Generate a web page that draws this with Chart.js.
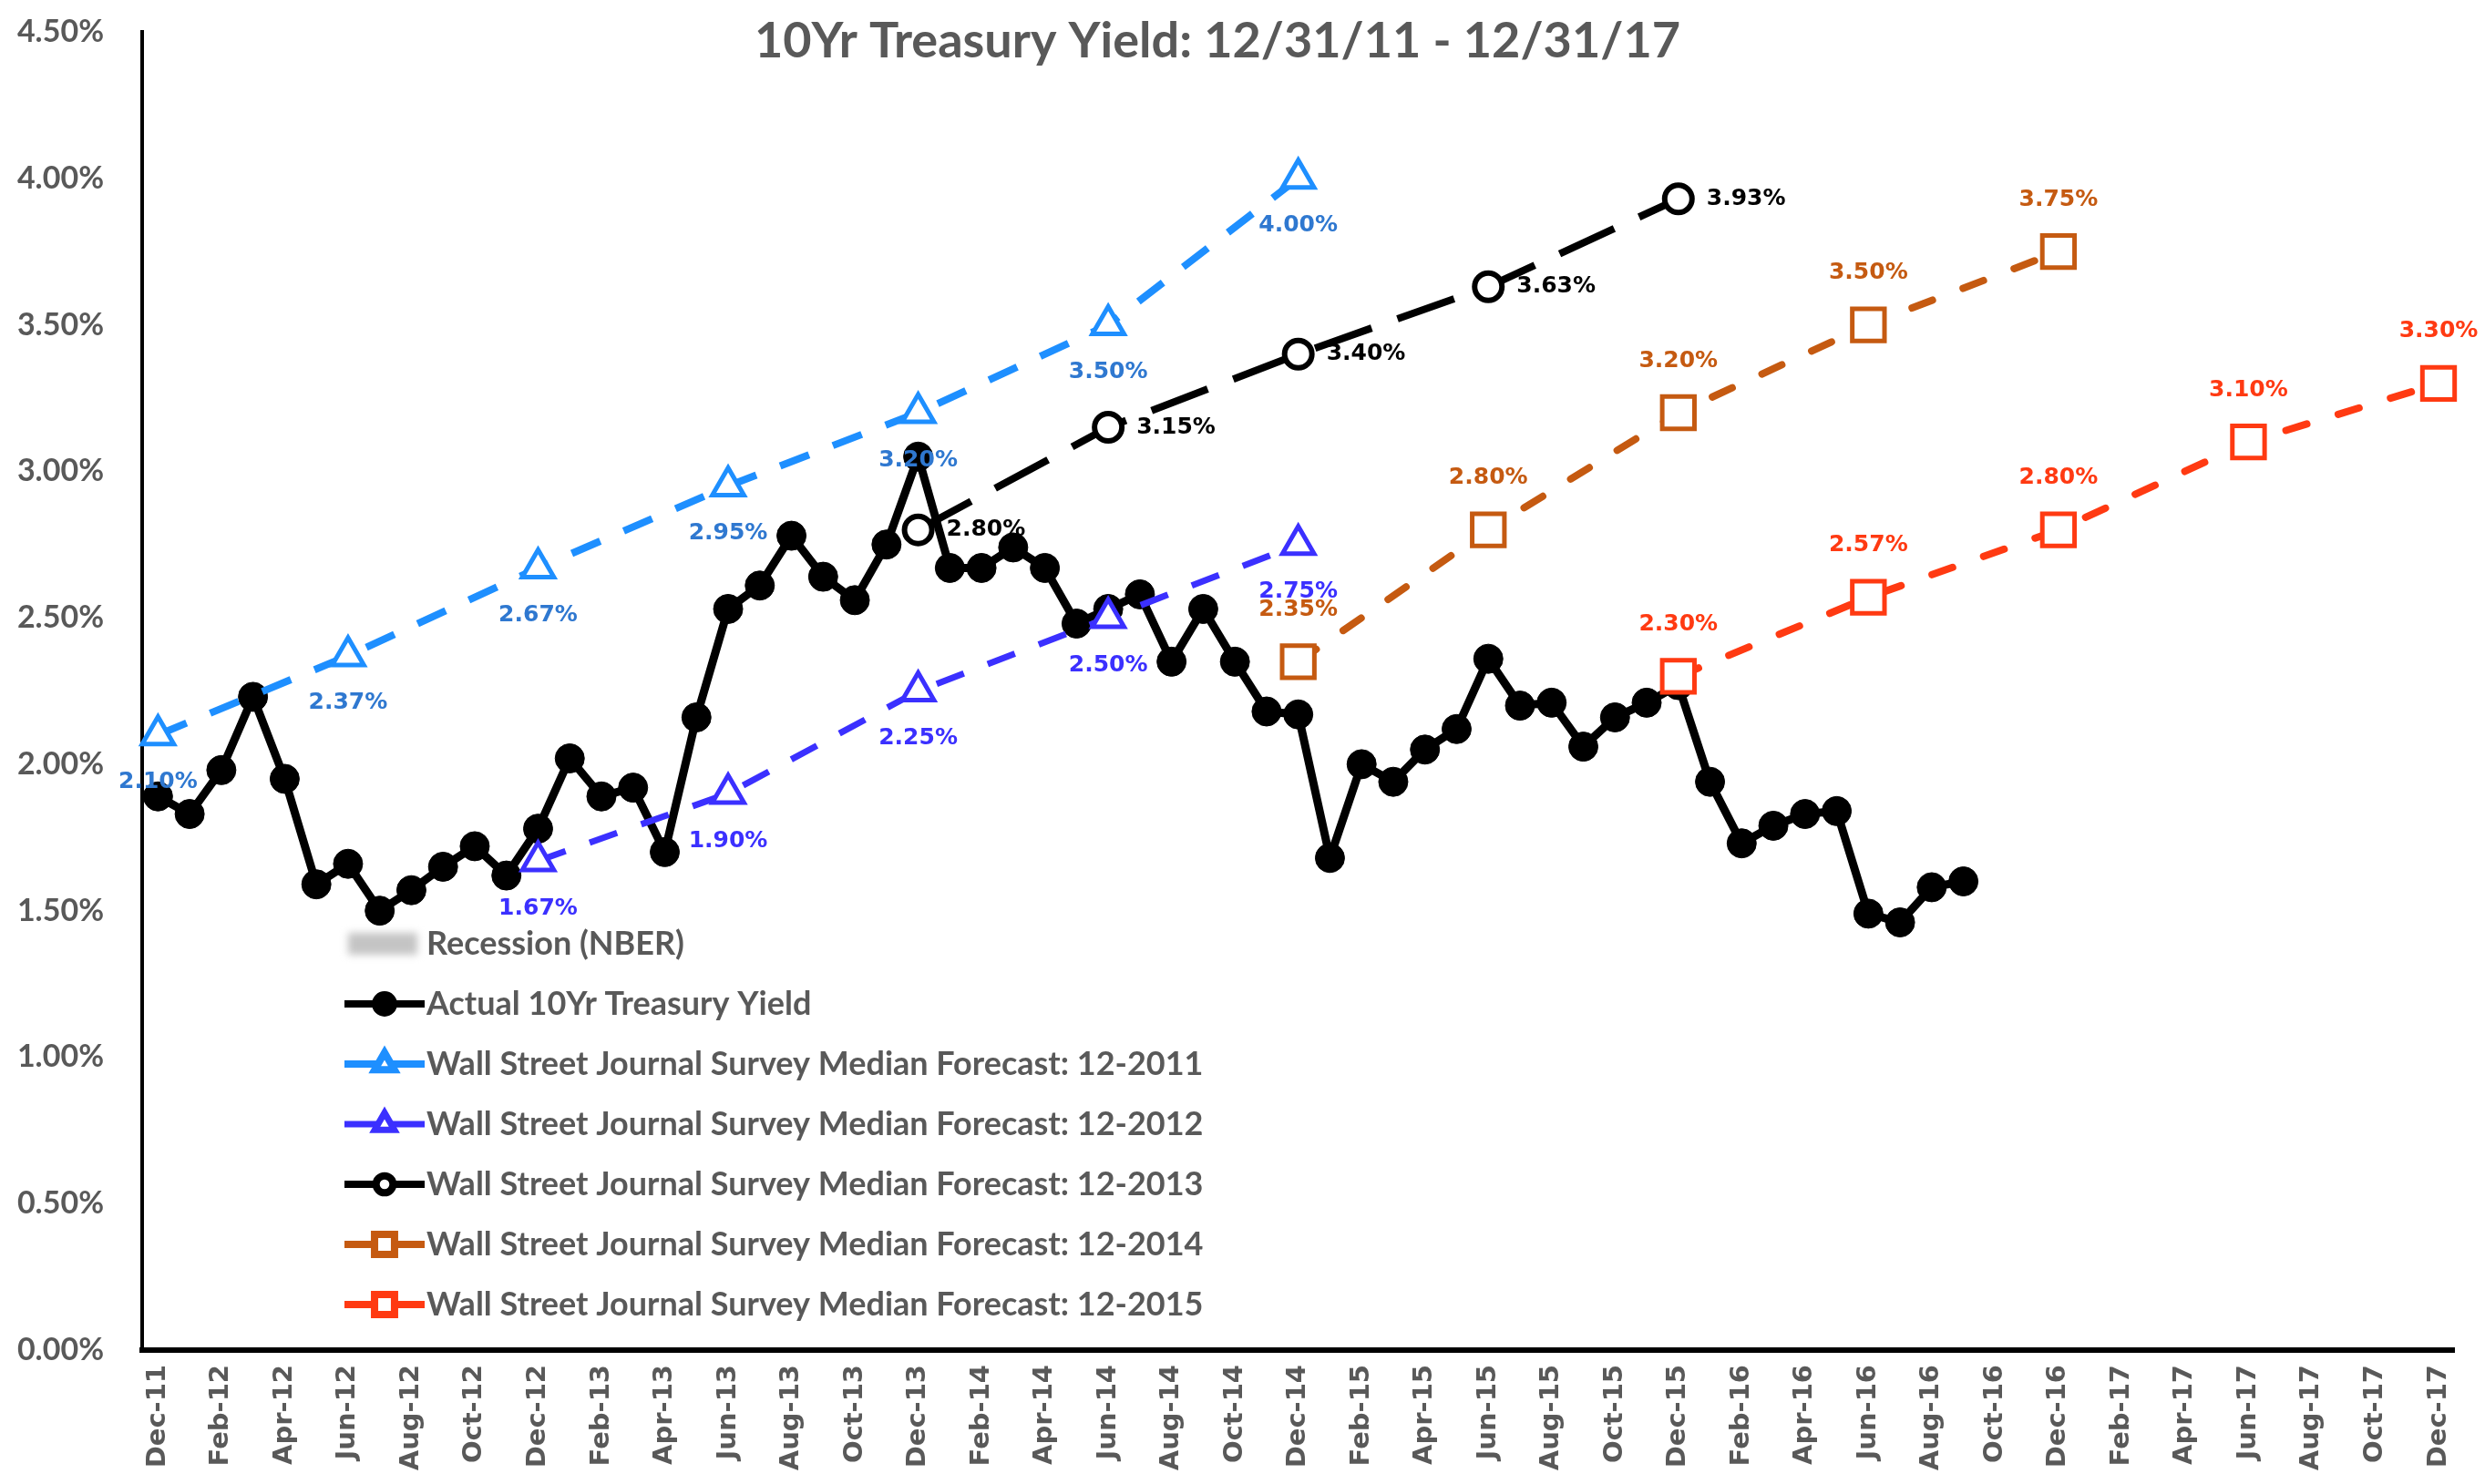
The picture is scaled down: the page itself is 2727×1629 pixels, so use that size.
<!DOCTYPE html>
<html>
<head>
<meta charset="utf-8">
<script src="https://cdn.jsdelivr.net/npm/chart.js@4/dist/chart.umd.min.js"></script>
<style>
  html, body { margin: 0; padding: 0; background: #fff; }
  canvas { display: block; }
</style>
</head>
<body>
<canvas id="grafico" width="2727" height="1629"></canvas>
<script>
// meses (eixo x)
const months = [
  'Dec-11',
  'Jan-12','Feb-12','Mar-12','Apr-12','May-12','Jun-12','Jul-12','Aug-12','Sep-12','Oct-12','Nov-12','Dec-12',
  'Jan-13','Feb-13','Mar-13','Apr-13','May-13','Jun-13','Jul-13','Aug-13','Sep-13','Oct-13','Nov-13','Dec-13',
  'Jan-14','Feb-14','Mar-14','Apr-14','May-14','Jun-14','Jul-14','Aug-14','Sep-14','Oct-14','Nov-14','Dec-14',
  'Jan-15','Feb-15','Mar-15','Apr-15','May-15','Jun-15','Jul-15','Aug-15','Sep-15','Oct-15','Nov-15','Dec-15',
  'Jan-16','Feb-16','Mar-16','Apr-16','May-16','Jun-16','Jul-16','Aug-16','Sep-16','Oct-16','Nov-16','Dec-16',
  'Jan-17','Feb-17','Mar-17','Apr-17','May-17','Jun-17','Jul-17','Aug-17','Sep-17','Oct-17','Nov-17','Dec-17'
]

// rendimento real, Dec-11 ate Sep-16
const actualYield = [
  1.89,
  1.83, 1.98, 2.23, 1.95, 1.59, 1.66, 1.50, 1.57, 1.65, 1.72, 1.62, 1.78,
  2.02, 1.89, 1.92, 1.70, 2.16, 2.53, 2.61, 2.78, 2.64, 2.56, 2.75, 3.05,
  2.67, 2.67, 2.74, 2.67, 2.48, 2.53, 2.58, 2.35, 2.53, 2.35, 2.18, 2.17,
  1.68, 2.00, 1.94, 2.05, 2.12, 2.36, 2.20, 2.21, 2.06, 2.16, 2.21, 2.27,
  1.94, 1.73, 1.79, 1.83, 1.84, 1.49, 1.46, 1.58, 1.60
]

// previsoes WSJ
const months2011 = ['Dec-11','Jun-12','Dec-12','Jun-13','Dec-13','Jun-14','Dec-14']
const forecast2011 = [2.10, 2.37, 2.67, 2.95, 3.20, 3.50, 4.00]

const months2012 = ['Dec-12','Jun-13','Dec-13','Jun-14','Dec-14']
const forecast2012 = [1.67, 1.90, 2.25, 2.50, 2.75]

const months2013 = ['Dec-13','Jun-14','Dec-14','Jun-15','Dec-15']
const forecast2013 = [2.80, 3.15, 3.40, 3.63, 3.93]

const months2014 = ['Dec-14','Jun-15','Dec-15','Jun-16','Dec-16']
const forecast2014 = [2.35, 2.80, 3.20, 3.50, 3.75]

const months2015 = ['Dec-15','Jun-16','Dec-16','Jun-17','Dec-17']
const forecast2015 = [2.30, 2.57, 2.80, 3.10, 3.30]

const yMin = 0
const yMax = 4.5
const yStep = 0.5

const pares = (meses, valores) => meses.map((m, i) => ({ x: m, y: valores[i] }))

const GRAY = '#595959'
const LABEL_FONT = 'bold 25px "DejaVu Sans", sans-serif'

Chart.defaults.font.family = 'Lato, "Liberation Sans", sans-serif'
Chart.defaults.font.weight = 'bold'
Chart.defaults.color = GRAY

const datasets = [
  {
    label: 'Recession (NBER)',
    data: [],
    legendBox: true,
    backgroundColor: '#c4c4c4'
  },
  {
    label: 'Actual 10Yr Treasury Yield',
    data: actualYield,
    borderColor: '#000',
    backgroundColor: '#000',
    borderWidth: 9,
    pointStyle: 'circle',
    pointRadius: 16,
    pointBorderWidth: 1,
    order: 6
  },
  {
    label: 'Wall Street Journal Survey Median Forecast: 12-2011',
    data: pares(months2011, forecast2011),
    borderColor: '#1E8FFF',
    pointBackgroundColor: '#fff',
    borderWidth: 8,
    borderDash: [34, 28],
    pointStyle: 'triangle',
    pointRadius: 20,
    pointBorderWidth: 5,
    labelPos: 'below',
    labelColor: '#2F78D0',
    order: 1
  },
  {
    label: 'Wall Street Journal Survey Median Forecast: 12-2012',
    data: pares(months2012, forecast2012),
    borderColor: '#3B30FF',
    pointBackgroundColor: '#fff',
    borderWidth: 7,
    borderDash: [32, 28],
    pointStyle: 'triangle',
    pointRadius: 20,
    pointBorderWidth: 5,
    labelPos: 'below',
    labelColor: '#3B30FF',
    order: 2
  },
  {
    label: 'Wall Street Journal Survey Median Forecast: 12-2013',
    data: pares(months2013, forecast2013),
    borderColor: '#000',
    pointBackgroundColor: '#fff',
    borderWidth: 8,
    borderDash: [66, 30],
    pointStyle: 'circle',
    pointRadius: 15,
    pointBorderWidth: 6,
    labelPos: 'right',
    labelColor: '#000',
    order: 3
  },
  {
    label: 'Wall Street Journal Survey Median Forecast: 12-2014',
    data: pares(months2014, forecast2014),
    borderColor: '#C55A11',
    pointBackgroundColor: '#fff',
    borderWidth: 8,
    borderDash: [24, 36],
    borderCapStyle: 'round',
    pointStyle: 'rect',
    pointRadius: 25,
    pointBorderWidth: 5,
    labelPos: 'above',
    labelColor: '#C55A11',
    order: 4
  },
  {
    label: 'Wall Street Journal Survey Median Forecast: 12-2015',
    data: pares(months2015, forecast2015),
    borderColor: '#FF3A12',
    pointBackgroundColor: '#fff',
    borderWidth: 8,
    borderDash: [24, 36],
    borderCapStyle: 'round',
    pointStyle: 'rect',
    pointRadius: 25,
    pointBorderWidth: 5,
    labelPos: 'above',
    labelColor: '#FF3A12',
    order: 5
  }
]

// rotulos de valor nas previsoes
const rotulos = {
  id: 'rotulos',
  afterDatasetsDraw(chart) {
    const c = chart.ctx
    chart.data.datasets.forEach((ds, i) => {
      if (!ds.labelPos) return
      const meta = chart.getDatasetMeta(i)
      meta.data.forEach((pt, j) => {
        const texto = ds.data[j].y.toFixed(2) + '%'
        c.save()
        c.font = LABEL_FONT
        c.fillStyle = ds.labelColor
        c.textBaseline = 'middle'
        if (ds.labelPos === 'below') {
          c.textAlign = 'center'
          c.fillText(texto, pt.x, pt.y + 52)
        } else if (ds.labelPos === 'above') {
          c.textAlign = 'center'
          c.fillText(texto, pt.x, pt.y - 57)
        } else {
          c.textAlign = 'left'
          c.fillText(texto, pt.x + 31, pt.y)
        }
        c.restore()
      })
    })
  }
}

// legenda dentro da area do grafico
const legenda = {
  id: 'legenda',
  afterDraw(chart) {
    const c = chart.ctx
    const area = chart.chartArea
    const x0 = area.left + 222
    const x1 = x0 + 88
    let y = area.bottom - 446
    chart.data.datasets.forEach(ds => {
      c.save()
      if (ds.legendBox) {
        c.filter = 'blur(4px)'
        c.fillStyle = ds.backgroundColor
        c.fillRect(x0 + 4, y - 12, 76, 24)
        c.filter = 'none'
      } else {
        c.strokeStyle = ds.borderColor
        c.lineWidth = Math.min(ds.borderWidth, 8)
        c.beginPath()
        c.moveTo(x0, y)
        c.lineTo(x1, y)
        c.stroke()
        c.fillStyle = ds.pointBackgroundColor || ds.backgroundColor
        Chart.helpers.drawPoint(c, {
          pointStyle: ds.pointStyle,
          radius: ds.pointRadius * 0.62,
          rotation: 0,
          borderWidth: ds.pointBorderWidth
        }, (x0 + x1) / 2, y)
      }
      c.font = 'bold 36px Lato, sans-serif'
      c.fillStyle = GRAY
      c.textAlign = 'left'
      c.textBaseline = 'middle'
      c.fillText(ds.label, x1 + 2, y)
      c.restore()
      y += 66
    })
  }
}

const titulo = {
  id: 'titulo',
  afterDraw(chart) {
    const c = chart.ctx
    c.save()
    c.font = 'bold 54px Lato, sans-serif'
    c.fillStyle = GRAY
    c.textAlign = 'center'
    c.textBaseline = 'middle'
    c.fillText('10Yr Treasury Yield: 12/31/11 - 12/31/17', 1336, 46)
    c.restore()
  }
}

const config = {
  type: 'line',
  data: { labels: months, datasets },
  options: {
    responsive: false,
    animation: false,
    devicePixelRatio: 1,
    layout: { padding: { top: 35, right: 26, left: 0, bottom: 0 } },
    plugins: {
      legend: { display: false },
      title: { display: false },
      tooltip: { enabled: false }
    },
    scales: {
      x: {
        type: 'category',
        offset: true,
        grid: { display: false, drawTicks: false },
        border: { display: true, color: '#000', width: 6 },
        ticks: {
          autoSkip: false,
          maxRotation: 90,
          minRotation: 90,
          padding: 16,
          font: { family: '"DejaVu Sans", sans-serif', size: 29 },
          callback(v, i) { return i % 2 === 0 ? this.getLabelForValue(v) : '' }
        },
        afterFit(s) { s.height = 147 }
      },
      y: {
        min: yMin,
        max: yMax,
        grid: { display: false, drawTicks: false },
        border: { display: true, color: '#000', width: 4 },
        ticks: {
          stepSize: yStep,
          padding: 42,
          font: { size: 34 },
          callback: v => v.toFixed(2) + '%'
        },
        afterFit(s) {
          s.width = 156
          s.paddingTop = 0
          s.paddingBottom = 0
        }
      }
    }
  },
  plugins: [rotulos, legenda, titulo]
}

const graph = new Chart(document.getElementById('grafico'), config)
</script>
</body>
</html>
